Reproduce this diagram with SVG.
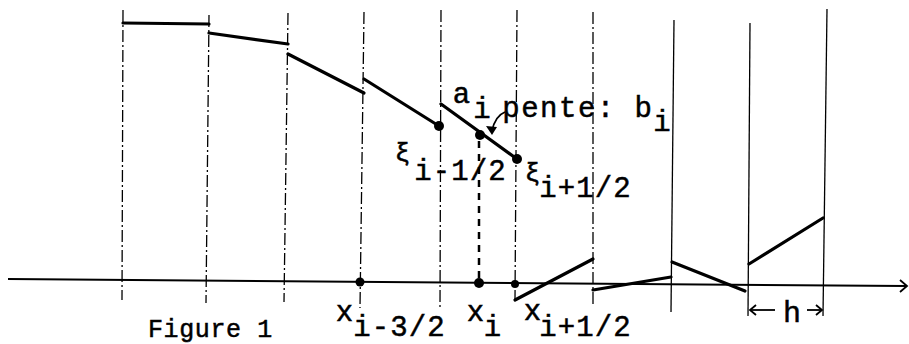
<svg xmlns="http://www.w3.org/2000/svg" width="909" height="344" viewBox="0 0 909 344">
<style>
.grid{stroke:#000;stroke-width:1.3;fill:none}
.dd{stroke-dasharray:12,3,2,3}
.seg{stroke:#000;stroke-width:3.2;fill:none;stroke-linecap:round}
.ax{stroke:#000;stroke-width:2;fill:none}
.thin{stroke:#000;stroke-width:1.8;fill:none}
.dot{fill:#000}
text{font-family:"Liberation Mono","DejaVu Sans Mono",monospace;fill:#000;stroke:#000;stroke-width:0.5}
.t{font-size:29px;letter-spacing:1.1px}
.tp{font-size:29px;letter-spacing:1.5px}
.xi{font-size:26px}
.fig{font-size:25px;letter-spacing:0.6px}
.h{font-size:30px}
</style>
<rect width="909" height="344" fill="#fff"/>
<g id="gridlines">
<line class="grid dd" x1="123" y1="10" x2="122" y2="300"/>
<line class="grid dd" x1="209" y1="15" x2="206" y2="303"/>
<line class="grid dd" x1="288" y1="13" x2="284" y2="302"/>
<line class="grid dd" x1="364" y1="12" x2="360" y2="308"/>
<line class="grid dd" x1="441" y1="10" x2="440" y2="308"/>
<line class="grid dd" x1="517" y1="10" x2="515" y2="300"/>
<line class="grid dd" x1="593" y1="12" x2="593" y2="306"/>
<line class="grid" x1="674" y1="20" x2="671" y2="312"/>
<line class="grid" x1="750" y1="23" x2="748" y2="316"/>
<line class="grid" x1="827" y1="9" x2="823" y2="316"/>
</g>
<g id="axis">
<path class="ax" d="M8,279 L906,286"/>
<path class="thin" d="M900,280 L907,286 L900,292"/>
</g>
<g id="connectors">
<path class="seg" d="M123,23 L209,24"/>
<path class="seg" d="M209,33 L288,44"/>
<path class="seg" d="M288,54 L364,93"/>
<path class="seg" d="M364,79 L439,126"/>
<path class="seg" d="M441,104 L517,159"/>
<path class="seg" d="M515,300 L593,259"/>
<path class="seg" d="M593,290 L671,277"/>
<path class="seg" d="M672,262 L745,291"/>
<path class="seg" d="M749,264 L823,218"/>
<path d="M479,141 L479,280" stroke="#000" stroke-width="2.5" stroke-dasharray="7,6" fill="none"/>
<path class="thin" d="M505,112 Q495,116 492,131"/>
<path class="dot" d="M486,126 L492,135 L497,127 Z"/>
<line class="thin" x1="750" y1="310" x2="775" y2="310"/>
<path class="thin" d="M756,305 L750,310 L756,315"/>
<line class="thin" x1="807" y1="310" x2="822" y2="310"/>
<path class="thin" d="M816,305 L822,310 L816,315"/>
</g>
<g id="points">
<circle class="dot" cx="439" cy="126" r="5"/>
<circle class="dot" cx="480" cy="135" r="5"/>
<circle class="dot" cx="517" cy="159" r="5"/>
<circle class="dot" cx="360" cy="282" r="4.5"/>
<circle class="dot" cx="479" cy="283" r="5"/>
<circle class="dot" cx="515" cy="284" r="4"/>
</g>
<g id="labels">
<text class="t" x="452.8" y="103">a</text>
<text class="t" x="473.3" y="118">i</text>
<text class="tp" x="502.3" y="117">pente: b</text>
<text class="t" x="653.3" y="131">i</text>
<text class="xi" x="394.7" y="161">ξ</text>
<text class="t" x="414.3" y="180">i-1/2</text>
<text class="xi" x="524.7" y="181">ξ</text>
<text class="t" x="539.3" y="197">i+1/2</text>
<text class="t" x="335.8" y="321">x</text>
<text class="t" x="353.3" y="336">i-3/2</text>
<text class="t" x="466.8" y="321">x</text>
<text class="t" x="483.8" y="336">i</text>
<text class="t" x="523.8" y="320">x</text>
<text class="t" x="539.3" y="336">i+1/2</text>
<text class="h" x="792" y="322" text-anchor="middle">h</text>
<text class="fig" x="148" y="337">Figure 1</text>
</g>
</svg>
